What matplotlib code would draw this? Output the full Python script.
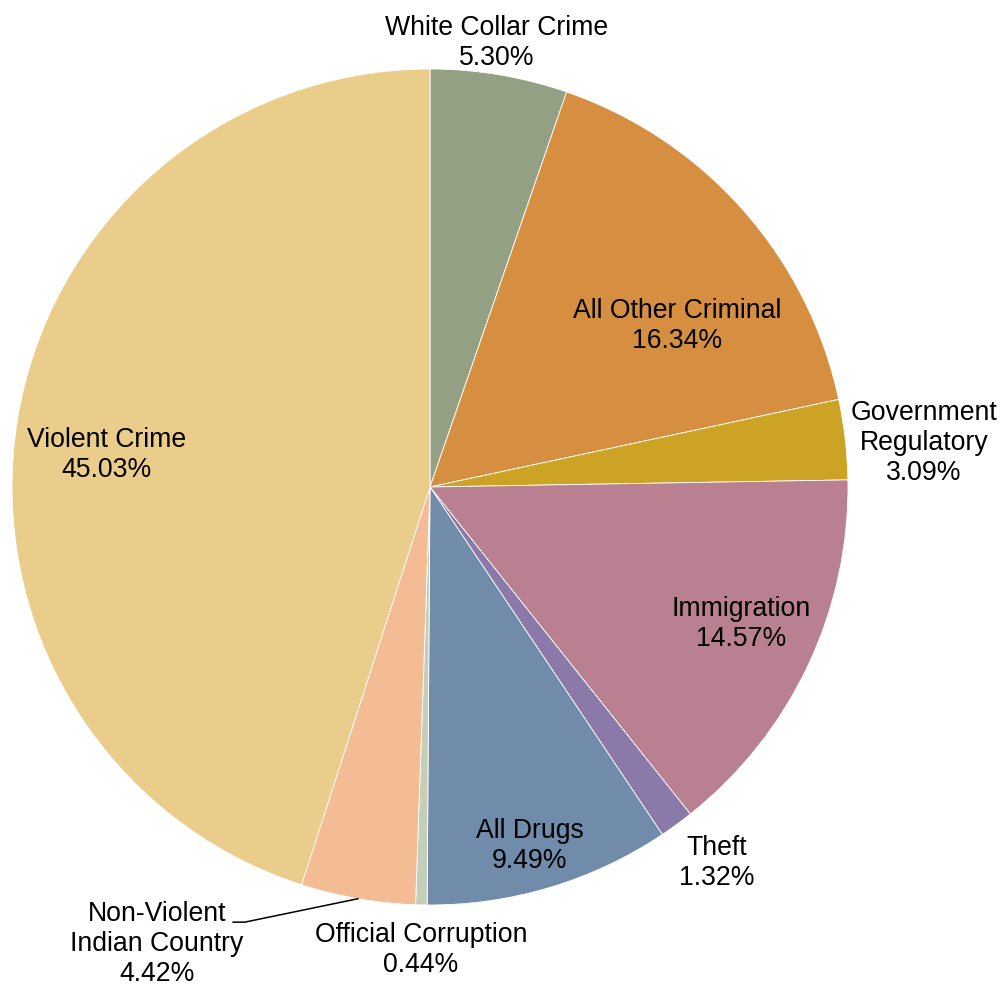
import numpy as np
import matplotlib.pyplot as plt

plt.rcParams['font.family'] = ['Liberation Sans', 'DejaVu Sans']

# Case categories and their share of the total (percent)
categories = ['White Collar Crime', 'All Other Criminal', 'Government\nRegulatory',
              'Immigration', 'Theft', 'All Drugs', 'Official Corruption',
              'Non-Violent\nIndian Country', 'Violent Crime']
shares = [5.30, 16.34, 3.09, 14.57, 1.32, 9.49, 0.44, 4.42, 45.03]
colors = ['#93a083', '#d68f40', '#cda325', '#b88090', '#8b79aa',
          '#718bab', '#c5cfb8', '#f4bc94', '#eacd8a']

# label centres, in units of the pie radius
label_pos = [(0.160, 1.062), (0.591, 0.385), (1.182, 0.105), (0.744, -0.328),
             (0.686, -0.899), (0.239, -0.859), (-0.022, -1.107),
             (-0.653, -1.094), (-0.773, 0.077)]

fig = plt.figure(figsize=(10.05, 9.88), dpi=100)
ax = fig.add_axes([0, 0, 1, 1])

wedges, _ = ax.pie(shares, colors=colors, startangle=90, counterclock=False,
                   radius=1.0, center=(0, 0),
                   wedgeprops=dict(edgecolor='white', linewidth=0.6))

for name, val, (x, y) in zip(categories, shares, label_pos):
    ax.text(x, y, f'{name}\n{val:.2f}%', ha='center', va='center',
            fontsize=19.2, linespacing=1.2, color='black')

# leader line for the Indian Country slice
w = wedges[7]
mid = np.deg2rad((w.theta1 + w.theta2) / 2)
ex, ey = np.cos(mid), np.sin(mid)
ax.plot([-0.471, -0.443, ex], [-1.041, -1.041, ey], color='black', lw=1.1)

ax.set_xlim(-430 / 418, 575 / 418)
ax.set_ylim(-501 / 418, 487 / 418)
ax.set_aspect('auto')
ax.axis('off')

fig.savefig('out.png', dpi=100)
